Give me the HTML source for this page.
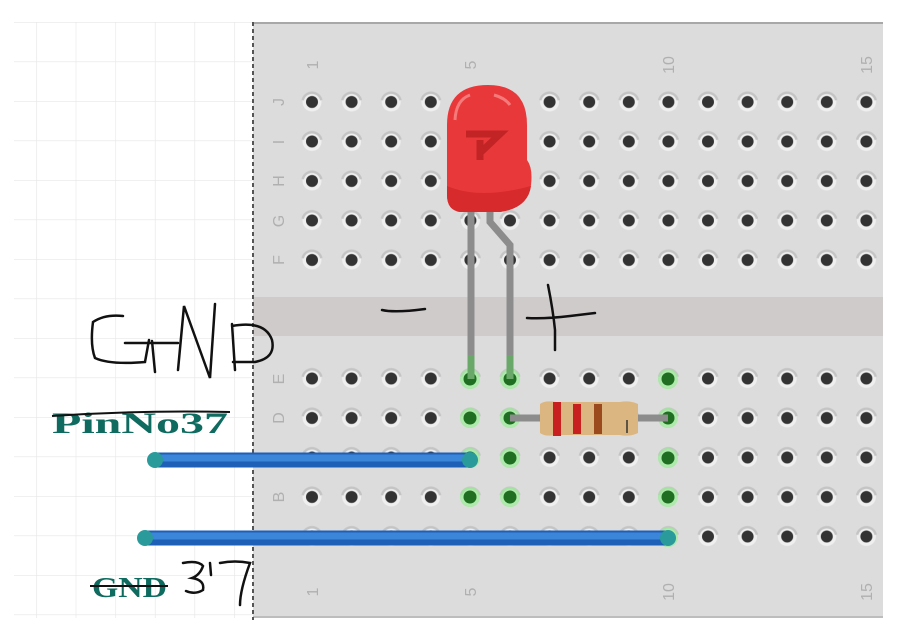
<!DOCTYPE html>
<html><head><meta charset="utf-8"><style>
html,body{margin:0;padding:0;background:#fff;width:898px;height:635px;overflow:hidden}
svg{display:block}
</style></head><body>
<svg width="898" height="635" viewBox="0 0 898 635" xmlns="http://www.w3.org/2000/svg">
<defs>
<pattern id="gridp" patternUnits="userSpaceOnUse" x="-3.5" y="22" width="39.6" height="39.5">
<path d="M0 0H39.6M0 0V39.5" stroke="#e6e6e6" stroke-width="1.2" fill="none"/>
</pattern>
<pattern id="holes" patternUnits="userSpaceOnUse" x="292.2" y="82.25" width="39.6" height="39.5">
<circle cx="19.8" cy="19.75" r="9.5" fill="#efefef"/>
<path d="M10.5 18 A9.5 9.5 0 0 1 29.1 18" stroke="#c4c4c4" stroke-width="2.5" fill="none"/>
<circle cx="19.8" cy="19.75" r="6" fill="#333"/>
</pattern>
<g id="gh"><circle r="10" fill="#9ee89a" opacity="0.8"/><circle r="6.5" fill="#1f6e22"/></g>
</defs>
<rect x="14" y="22" width="240" height="596" fill="url(#gridp)"/>
<!-- board -->
<rect x="253" y="22" width="630" height="596" fill="#dcdcdc"/>
<rect x="253" y="22" width="630" height="2" fill="#a8a8a8"/>
<rect x="253" y="616" width="630" height="2" fill="#bdbdbd"/>
<rect x="253" y="297" width="630" height="39" fill="#cfcbcb"/>
<line x1="253" y1="22" x2="253" y2="620" stroke="#555" stroke-width="2" stroke-dasharray="4,3"/>
<rect x="292" y="82" width="591" height="198" fill="url(#holes)"/>
<rect x="292" y="359" width="591" height="198" fill="url(#holes)"/>
<!-- labels -->
<g font-family="Liberation Sans, sans-serif" font-size="16" fill="#b0b0b0" text-anchor="middle">
<text transform="translate(318,65) rotate(-90)">1</text>
<text transform="translate(476,65) rotate(-90)">5</text>
<text transform="translate(674,65) rotate(-90)">10</text>
<text transform="translate(872,65) rotate(-90)">15</text>
<text transform="translate(318,592) rotate(-90)">1</text>
<text transform="translate(476,592) rotate(-90)">5</text>
<text transform="translate(674,592) rotate(-90)">10</text>
<text transform="translate(872,592) rotate(-90)">15</text>
<text transform="translate(284,102) rotate(-90)">J</text>
<text transform="translate(284,142) rotate(-90)">I</text>
<text transform="translate(284,181) rotate(-90)">H</text>
<text transform="translate(284,221) rotate(-90)">G</text>
<text transform="translate(284,260) rotate(-90)">F</text>
<text transform="translate(284,379) rotate(-90)">E</text>
<text transform="translate(284,418) rotate(-90)">D</text>
<text transform="translate(284,458) rotate(-90)">C</text>
<text transform="translate(284,497) rotate(-90)">B</text>
<text transform="translate(284,537) rotate(-90)">A</text>
</g>
<!-- green holes -->
<use href="#gh" x="470" y="379"/><use href="#gh" x="470" y="418"/><use href="#gh" x="470" y="458"/><use href="#gh" x="470" y="497"/>
<use href="#gh" x="510" y="379"/><use href="#gh" x="510" y="418"/><use href="#gh" x="510" y="458"/><use href="#gh" x="510" y="497"/>
<use href="#gh" x="668" y="379"/><use href="#gh" x="668" y="418"/><use href="#gh" x="668" y="458"/><use href="#gh" x="668" y="497"/><use href="#gh" x="668" y="537"/>
<!-- LED legs -->
<path d="M471 205 V379" stroke="#8c8c8c" stroke-width="7" fill="none"/>
<path d="M490 205 V222 L510 245 V379" stroke="#8c8c8c" stroke-width="7" fill="none"/>
<path d="M471 355 V379 M510 355 V379" stroke="#6aa86a" stroke-width="7"/>
<!-- LED -->
<path d="M447 125 Q447 85 488 85 Q527 85 527 125 V160 Q533 168 531 185 Q528 208 500 212 L460 212 Q447 210 447 195 Z" fill="#e8383a"/>
<path d="M447 186 Q480 200 531 186 Q528 208 500 212 L460 212 Q447 210 447 195 Z" fill="#d62a2c"/>
<path d="M466 134 H500 L480 153 M480 140 V160" stroke="#c22426" stroke-width="7" fill="none"/>
<path d="M455 120 Q456 100 470 95" stroke="#f57a7a" stroke-width="3" fill="none"/>
<path d="M494 95 Q505 98 510 105" stroke="#f57a7a" stroke-width="3" fill="none"/>
<!-- resistor -->
<path d="M510 418 H668" stroke="#8c8c8c" stroke-width="7"/>
<path d="M540 404 Q545 400 556 402 H620 Q630 400 638 404 V433 Q630 437 620 435 H556 Q545 437 540 433 Z" fill="#dcb680"/>
<rect x="553" y="402" width="8" height="34" fill="#c8201e"/>
<rect x="573" y="404" width="8" height="30" fill="#c8201e"/>
<rect x="594" y="404" width="8" height="30" fill="#9b4a1e"/>
<line x1="627" y1="420" x2="627" y2="433" stroke="#333" stroke-width="1.5"/>
<!-- wires -->
<line x1="155" y1="460" x2="470" y2="460" stroke="#1e5fb8" stroke-width="15" stroke-linecap="round"/>
<line x1="155" y1="458" x2="470" y2="458" stroke="#3b86d8" stroke-width="7" stroke-linecap="round"/>
<circle cx="155" cy="460" r="8" fill="#2a9a9a"/><circle cx="470" cy="460" r="8" fill="#2a9a9a"/>
<line x1="145" y1="538" x2="668" y2="538" stroke="#1e5fb8" stroke-width="15" stroke-linecap="round"/>
<line x1="145" y1="536" x2="668" y2="536" stroke="#3b86d8" stroke-width="7" stroke-linecap="round"/>
<circle cx="145" cy="538" r="8" fill="#2a9a9a"/><circle cx="668" cy="538" r="8" fill="#2a9a9a"/>
<!-- handwriting -->
<g stroke="#111" stroke-width="2.5" fill="none" stroke-linecap="round">
<path d="M123 316 Q105 314 93 322 Q90 345 95 358 Q110 365 145 362 L149 340 M125 343 H178"/>
<path d="M152 341 L155 372"/>
<path d="M178 370 L184 306 L210 378 L215 304"/>
<path d="M232 324 L235 370 M232 326 Q265 320 272 340 Q276 358 255 362 L233 362"/>
<path d="M382 310 Q395 313 425 309"/>
<path d="M548 285 Q553 310 555 330 L555 350 M527 318 Q545 319 570 316 L595 313"/>
<path d="M183 563 Q198 560 203 566 Q200 575 192 578 Q205 580 203 590 Q195 595 186 591 M210 563 L211 575 M220 563 Q235 560 250 563 Q240 590 240 605"/>
</g>
<!-- labels -->
<g font-family="Liberation Serif, serif" font-weight="bold" fill="#0f6b5f">
<text x="52" y="433" font-size="30" textLength="176" lengthAdjust="spacingAndGlyphs">PinNo37</text>
<text x="92" y="597" font-size="28" textLength="75" lengthAdjust="spacingAndGlyphs">GND</text>
</g>
<path d="M52 416 Q140 410 230 412" stroke="#111" stroke-width="2" fill="none"/>
<path d="M90 586 H168" stroke="#111" stroke-width="2"/>
</svg>
</body></html>
